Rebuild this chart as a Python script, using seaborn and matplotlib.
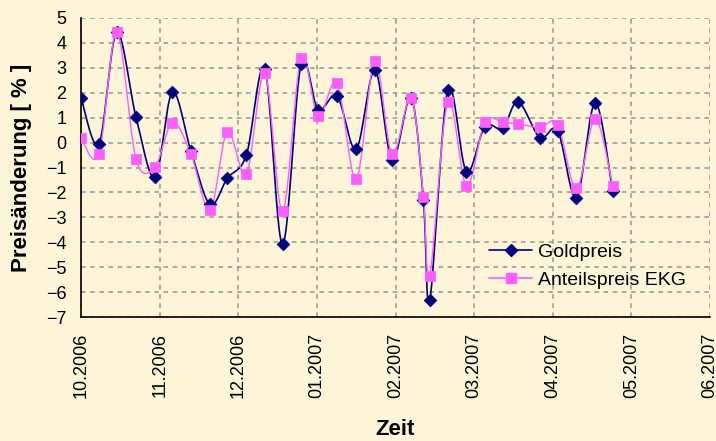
import numpy as np
import pandas as pd
import seaborn as sns
import matplotlib.pyplot as plt
from matplotlib.lines import Line2D

# x position in months since 10.2006 (weekly observations), values in %
monat = [0.000, 0.229, 0.454, 0.700, 0.941, 1.162, 1.399, 1.641, 1.861, 2.103,
         2.337, 2.564, 2.799, 3.015, 3.257, 3.499, 3.737, 3.957, 4.198, 4.355,
         4.436, 4.665, 4.902, 5.136, 5.363, 5.560, 5.836, 6.062, 6.301, 6.539,
         6.762]
goldpreis = [1.80, -0.05, 4.42, 1.02, -1.40, 2.02, -0.35, -2.48, -1.43, -0.50,
             2.95, -4.08, 3.14, 1.32, 1.87, -0.26, 2.92, -0.70, 1.80, -2.30,
             -6.32, 2.11, -1.17, 0.64, 0.57, 1.64, 0.20, 0.48, -2.21, 1.60,
             -1.94]
anteilspreis = [0.17, -0.46, 4.43, -0.66, -0.97, 0.80, -0.46, -2.71, 0.44, -1.27,
                2.78, -2.75, 3.41, 1.06, 2.38, -1.46, 3.28, -0.47, 1.80, -2.17,
                -5.34, 1.62, -1.73, 0.81, 0.81, 0.75, 0.61, 0.72, -1.84, 0.95,
                -1.73]
monats_labels = ["10.2006", "11.2006", "12.2006", "01.2007", "02.2007",
                 "03.2007", "04.2007", "05.2007", "06.2007"]

bg = "#FEF4D8"
navy = "#000080"
pink = "#FF5CFF"


def excel_smooth(x, y, n=20):
    # Bezier smoothing like Excel's "smoothed line" option
    px = np.r_[x[0], x, x[-1]]
    py = np.r_[y[0], y, y[-1]]
    t = np.linspace(0, 1, n)[:, None]
    xs, ys = [], []
    for i in range(1, len(px) - 2):
        p0 = np.array([px[i], py[i]])
        p3 = np.array([px[i + 1], py[i + 1]])
        p1 = p0 + (p3 - np.array([px[i - 1], py[i - 1]])) / 6
        p2 = p3 - (np.array([px[i + 2], py[i + 2]]) - p0) / 6
        b = ((1 - t) ** 3) * p0 + 3 * ((1 - t) ** 2) * t * p1 + 3 * (1 - t) * t ** 2 * p2 + t ** 3 * p3
        xs.append(b[:, 0])
        ys.append(b[:, 1])
    return np.concatenate(xs), np.concatenate(ys)


sns.set_style("white", {"axes.facecolor": bg, "figure.facecolor": bg})
plt.rcParams["font.family"] = ["Liberation Sans", "DejaVu Sans"]

fig = plt.figure(figsize=(7.16, 4.41), dpi=100)
ax = fig.add_axes([81 / 716, 1 - 317 / 441, 629 / 716, 299 / 441])

for werte, farbe, marker, ms, lw in [(goldpreis, navy, "D", 42, 1.2),
                                    (anteilspreis, pink, "s", 60, 1.0)]:
    sx, sy = excel_smooth(np.array(monat), np.array(werte))
    sns.lineplot(x=sx, y=sy, ax=ax, color=farbe, linewidth=lw, sort=False,
                 estimator=None, zorder=3)
    sns.scatterplot(x=monat, y=werte, ax=ax, color=farbe, marker=marker, s=ms,
                    edgecolor=farbe, linewidth=0.5, zorder=4)

ax.set_xlim(0, 8)
ax.set_ylim(-7, 5)
ax.set_xticks(range(len(monats_labels)))
ax.set_xticklabels(monats_labels, rotation=90)
ax.set_yticks(range(-7, 6))
ax.grid(True, color="#959595", linestyle=(0, (3, 3)), linewidth=1.1)
for s in ["top", "right"]:
    ax.spines[s].set_visible(False)
for s in ["left", "bottom"]:
    ax.spines[s].set_color("black")
    ax.spines[s].set_linewidth(1.2)
ax.tick_params(axis="both", direction="out", length=4.5, width=1.2,
               color="black", labelsize=13, labelcolor="black", pad=6)
ax.tick_params(axis="x", pad=7)

ax.set_ylabel("Preisänderung [ % ]", fontsize=16, fontweight="bold", color="black")
ax.yaxis.set_label_coords(-0.078, 0.5)
ax.set_xlabel("Zeit", fontsize=16, fontweight="bold", color="black")
ax.xaxis.set_label_coords(0.5, -0.34)

handles = [Line2D([], [], color=navy, marker="D", markersize=6, linewidth=1.2),
           Line2D([], [], color=pink, marker="s", markersize=7, linewidth=1.2)]
leg = ax.legend(handles, ["Goldpreis", "Anteilspreis EKG"], loc="center left",
                bbox_to_anchor=(0.649, 0.17), frameon=False, fontsize=14,
                handlelength=2.2, handletextpad=0.3, labelspacing=0.55,
                borderpad=0, borderaxespad=0)
for txt in leg.get_texts():
    txt.set_color("black")

fig.savefig("out.png", dpi=100, facecolor=bg)
